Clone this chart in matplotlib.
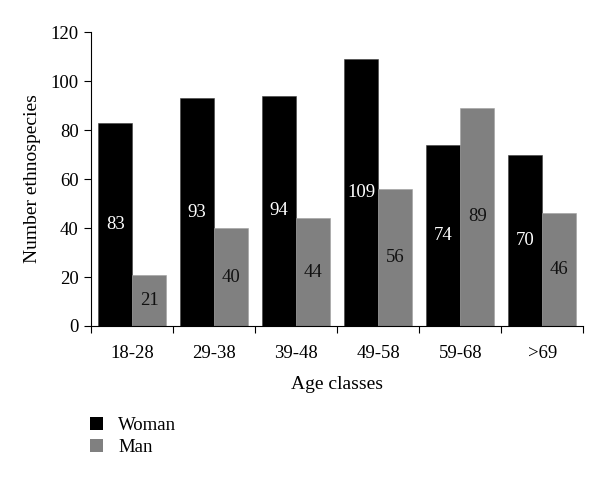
import matplotlib
matplotlib.use("Agg")
import matplotlib.pyplot as plt
from matplotlib.patches import Patch
import numpy as np

# Données
age_classes = ['18-28', '29-38', '39-48', '49-58', '59-68', '>69']
woman = [83, 93, 94, 109, 74, 70]
man = [21, 40, 44, 56, 89, 46]

plt.rcParams['font.family'] = ['Liberation Serif', 'DejaVu Serif']

fig = plt.figure(figsize=(6, 4.78), dpi=100)
ax = fig.add_axes([0.152, 0.318, 0.82, 0.615])

x = np.arange(len(age_classes))
w = 0.415
bars_w = ax.bar(x - w / 2, woman, width=w, color='black', edgecolor='#404040', linewidth=0.4)
bars_m = ax.bar(x + w / 2, man, width=w, color='#808080', edgecolor='#a0a0a0', linewidth=0.4)

# Valeurs dans les barres
for b, v in zip(bars_w, woman):
    ax.text(b.get_x() + b.get_width() / 2, v / 2, str(v), ha='center', va='center',
            color='white', fontsize=13.5)
for b, v in zip(bars_m, man):
    ax.text(b.get_x() + b.get_width() / 2, v / 2, str(v), ha='center', va='center',
            color='#111111', fontsize=13.5)

ax.set_xlim(-0.5, len(age_classes) - 0.5)
ax.set_ylim(0, 120)
ax.set_yticks(range(0, 121, 20))
ax.set_xticks(x)
ax.set_xticklabels(age_classes)
ax.set_xticks(np.arange(len(age_classes) + 1) - 0.5, minor=True)
ax.tick_params(axis='x', which='major', length=0, pad=14, labelsize=13.5)
ax.tick_params(axis='x', which='minor', length=5, direction='out', width=0.8)
ax.tick_params(axis='y', length=5, direction='out', width=0.8, labelsize=13.5, pad=4)

for s in ['top', 'right']:
    ax.spines[s].set_visible(False)
ax.spines['left'].set_linewidth(0.8)
ax.spines['bottom'].set_linewidth(0.8)

ax.set_ylabel('Number ethnospecies', fontsize=14, labelpad=7)
ax.set_xlabel('Age classes', fontsize=14, labelpad=10)

handles = [Patch(facecolor='black', label='Woman'), Patch(facecolor='#808080', label='Man')]
fig.legend(handles=handles, loc='upper left', bbox_to_anchor=(0.138, 0.143),
           frameon=False, fontsize=13.5, handlelength=0.7, handleheight=0.7,
           handletextpad=0.8, labelspacing=0.25, borderaxespad=0)

plt.savefig('out.png', dpi=100, facecolor='white')
plt.close()
